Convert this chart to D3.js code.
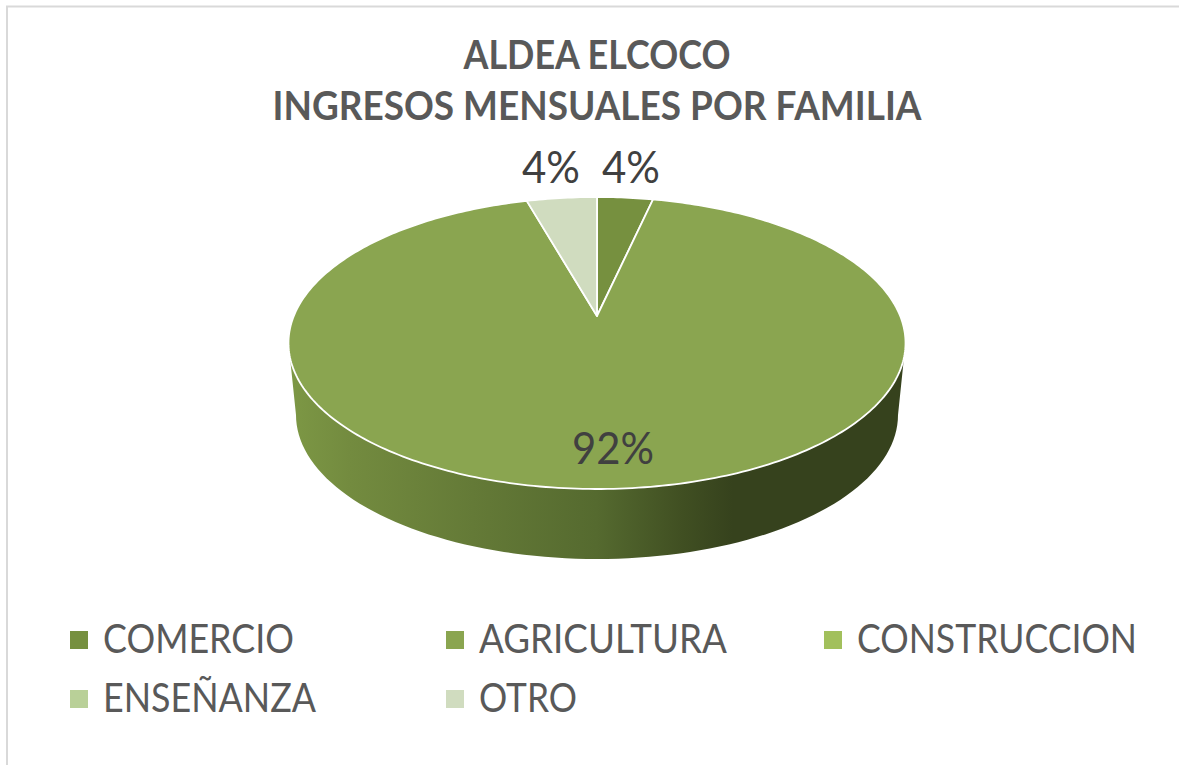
<!DOCTYPE html>
<html><head><meta charset="utf-8">
<style>html,body{margin:0;padding:0;background:#fff;overflow:hidden}svg{display:block}text{font-family:Lato,Carlito,sans-serif}</style>
<script src="https://cdn.jsdelivr.net/npm/d3@7"></script>
</head><body><svg id="c" width="1179" height="765"></svg>
<script>
const categories=["COMERCIO","AGRICULTURA","CONSTRUCCION","ENSEÑANZA","OTRO"];
const values=[3.5,92.1,0,0,4.4];
const colors=["#76903f","#8aa550","#a2c05c","#b9d098","#d0dcbf"];
const labels=["4%","92%","","","4%"];
const titleLines=["ALDEA ELCOCO","INGRESOS MENSUALES POR FAMILIA"];
const W=1179,H=765,svg=d3.select("#c");

// frame
svg.append("rect").attr("x",7).attr("y",6.5).attr("width",W+20).attr("height",H+20)
  .attr("fill","#fff").attr("stroke","#d9d9d9").attr("stroke-width",2);

// title
svg.selectAll(".t").data(titleLines).join("text").attr("class","t")
  .attr("x",597).attr("y",(d,i)=>69+i*51).attr("text-anchor","middle")
  .attr("font-size",41).attr("font-weight",700).attr("fill","#595959")
  .attr("textLength",(d,i)=>[267,649][i]).attr("lengthAdjust","spacingAndGlyphs").text(d=>d);

// projection of the tilted disc: apex sits above the ellipse centre
const k=0.185,A=303.2,B=141,apex=[597,316];
const proj=a=>{const u=Math.sin(a),v=-Math.cos(a),w=1-k*v;return [apex[0]+A*u/w,apex[1]+B*v/w];};
const line=d3.line();
const pie=d3.pie().sort(null).value(d=>d)(values);

// wall
const topE={cx:597,cy:343,rx:308.5,ry:146},botE={cx:597,cy:415,rx:301,ry:144};
const sweep=d3.range(0,181,2).map(d=>d*Math.PI/180);
const ePt=(e,t)=>[e.cx+e.rx*Math.cos(t),e.cy+e.ry*Math.sin(t)];
const wall=[...sweep.map(t=>ePt(topE,t)),...sweep.slice().reverse().map(t=>ePt(botE,t))];
const defs=svg.append("defs");
const g=defs.append("linearGradient").attr("id","wg").attr("gradientUnits","userSpaceOnUse")
  .attr("x1",288).attr("x2",905).attr("y1",0).attr("y2",0);
[[0,"#7d9845"],[0.1,"#738b3f"],[0.3,"#647a37"],[0.5,"#556a2f"],[0.64,"#404f22"],[0.72,"#36421d"],[1,"#36421d"]]
  .forEach(s=>g.append("stop").attr("offset",s[0]).attr("stop-color",s[1]));
svg.append("path").attr("d",line(wall)+"Z").attr("fill","url(#wg)");

// top slices
pie.filter(d=>d.value>0).forEach(d=>{
  const n=Math.max(6,Math.ceil((d.endAngle-d.startAngle)*60));
  const pts=[apex,...d3.range(n+1).map(i=>proj(d.startAngle+(d.endAngle-d.startAngle)*i/n))];
  svg.append("path").attr("d",line(pts)+"Z").attr("fill",colors[d.index])
    .attr("stroke","#fff").attr("stroke-width",1.8).attr("stroke-linejoin","round");
});

// data labels
const labelPos={0:[631,183],1:[613,464],4:[551,183]};
const labelLen={0:58,1:82,4:58};
pie.forEach(d=>{ if(!labels[d.index])return;
  svg.append("text").attr("x",labelPos[d.index][0]).attr("y",labelPos[d.index][1])
    .attr("text-anchor","middle").attr("font-size",45).attr("fill","#404040")
    .attr("textLength",labelLen[d.index]).attr("lengthAdjust","spacingAndGlyphs").text(labels[d.index]);
});

// legend
const colX=d3.scaleOrdinal().domain([0,1,2]).range([70,446,824]);
const rowY=d3.scaleOrdinal().domain([0,1]).range([631,690]);
const leg=svg.selectAll(".l").data(categories).join("g").attr("class","l")
  .attr("transform",(d,i)=>`translate(${colX(i%3)},${rowY(Math.floor(i/3))})`);
leg.append("rect").attr("width",18).attr("height",18).attr("fill",(d,i)=>colors[i]);
leg.append("text").attr("x",33).attr("y",22).attr("font-size",41).attr("fill","#595959")
  .attr("textLength",(d,i)=>[191,248,280,213,98][i]).attr("lengthAdjust","spacingAndGlyphs").text(d=>d);
</script></body></html>
